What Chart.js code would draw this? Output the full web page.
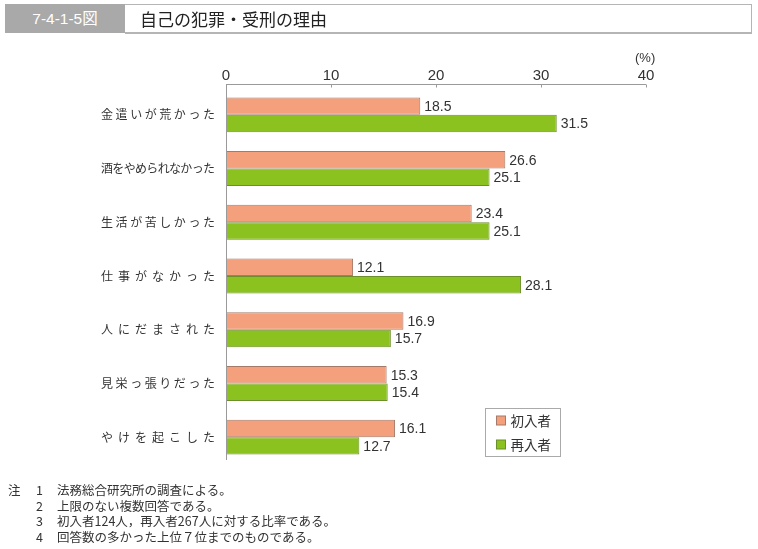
<!DOCTYPE html>
<html>
<head>
<meta charset="utf-8">
<script src="https://cdn.jsdelivr.net/npm/chart.js@4"></script>
<style>
  body { margin: 0; background: #fff; font-family: "Noto Sans CJK JP", "Liberation Sans", sans-serif; }
  #wrap { position: relative; width: 758px; height: 549px; overflow: hidden; }
  #chart { position: absolute; left: 0; top: 0; }
  .titleNo { position: absolute; left: 5px; top: 4px; width: 120px; height: 29px; background: #a9a9a9;
             color: #fff; font: 15.5px "Liberation Sans", "Noto Sans CJK JP", sans-serif; line-height: 29px; text-align: center; }
  .titleBox { position: absolute; left: 125px; top: 4px; width: 626px; height: 27px; border: 1px solid #b5b5b5;
              border-left: none; border-bottom: 2px solid #b5b5b5; }
  .titleText { position: absolute; left: 140px; top: 4px; height: 29px; line-height: 29px; font-size: 17px; color: #222; }
  .unit { position: absolute; left: 635px; top: 50px; font: 13px "Liberation Sans", sans-serif; color: #333; }
  .notes { position: absolute; left: 0; top: 482px; font-size: 12.5px; color: #333; }
  .notes div { position: relative; height: 15.5px; line-height: 15.5px; }
  .notes .h { position: absolute; left: 8px; }
  .notes .n { position: absolute; left: 36px; }
  .notes .t { position: absolute; left: 57px; white-space: nowrap; }
</style>
</head>
<body>
<div id="wrap">
  <canvas id="chart" width="758" height="549"></canvas>
  <div class="titleNo">7-4-1-5図</div>
  <div class="titleBox"></div>
  <div class="titleText">自己の犯罪・受刑の理由</div>
  <div class="unit">(%)</div>
  <div class="notes">
    <div><span class="h">注</span><span class="n">1</span><span class="t">法務総合研究所の調査による。</span></div>
    <div><span class="n">2</span><span class="t">上限のない複数回答である。</span></div>
    <div><span class="n">3</span><span class="t">初入者124人，再入者267人に対する比率である。</span></div>
    <div><span class="n">4</span><span class="t">回答数の多かった上位７位までのものである。</span></div>
  </div>
</div>
<script>
let categories = ["金遣いが荒かった", "酒をやめられなかった", "生活が苦しかった", "仕事がなかった",
                  "人にだまされた", "見栄っ張りだった", "やけを起こした"];
let seriesNames = ["初入者", "再入者"];
let firstTime = [18.5, 26.6, 23.4, 12.1, 16.9, 15.3, 16.1];
let repeat = [31.5, 25.1, 25.1, 28.1, 15.7, 15.4, 12.7];
let xTicks = [0, 10, 20, 30, 40];

/* axis lines, y labels, value labels, legend */
const extras = {
    id: "extras",
    afterDraw(chart) {
        const ctx = chart.ctx;
        const xs = chart.scales.x, ys = chart.scales.y;
        const x0 = xs.getPixelForValue(0), x1 = xs.getPixelForValue(40);
        const top = 84.5, bottom = 460;

        ctx.save();
        ctx.strokeStyle = "#9a9a9a";
        ctx.lineWidth = 1;
        ctx.beginPath();
        ctx.moveTo(x0, top); ctx.lineTo(x1, top);
        ctx.moveTo(x0 + 0.5, top); ctx.lineTo(x0 + 0.5, bottom);
        xTicks.forEach(v => {
            let px = Math.round(xs.getPixelForValue(v)) + 0.5;
            ctx.moveTo(px, top); ctx.lineTo(px, top + 3);
        });
        ctx.stroke();

        // category labels, spread evenly
        ctx.fillStyle = "#333";
        ctx.font = "12px 'Noto Sans CJK JP'";
        ctx.textBaseline = "middle";
        ctx.textAlign = "left";
        categories.forEach((c, i) => {
            let y = ys.getPixelForValue(i);
            let chars = Array.from(c);
            let cw = ctx.measureText(chars[0]).width;
            let left = 101, right = 215;
            let step = (right - left - cw) / (chars.length - 1);
            chars.forEach((ch, k) => ctx.fillText(ch, left + k * step, y));
        });

        // value labels
        ctx.font = "14px 'Liberation Sans', Arial, sans-serif";
        chart.data.datasets.forEach((ds, di) => {
            chart.getDatasetMeta(di).data.forEach((bar, i) => {
                ctx.fillText(ds.data[i].toFixed(1), bar.x + 4, bar.y + 1);
            });
        });

        // legend
        const lx = 485.5, ly = 408.5, lw = 75, lh = 48;
        ctx.strokeStyle = "#aaa";
        ctx.strokeRect(lx, ly, lw, lh);
        ctx.font = "13.5px 'Noto Sans CJK JP'";
        chart.data.datasets.forEach((ds, di) => {
            let cy = ly + 12 + di * 24;
            ctx.fillStyle = ds.backgroundColor;
            ctx.fillRect(lx + 11, cy - 4.5, 9, 9);
            ctx.strokeStyle = ds.borderColor;
            ctx.strokeRect(lx + 11, cy - 4.5, 9, 9);
            ctx.fillStyle = "#333";
            ctx.fillText(ds.label, lx + 25, cy);
        });
        ctx.restore();
    }
};

new Chart(document.getElementById("chart"), {
    type: "bar",
    data: {
        labels: categories,
        datasets: [
            { label: seriesNames[0], data: firstTime, backgroundColor: "#f4a07c", borderColor: "#a57a68", borderWidth: 1 },
            { label: seriesNames[1], data: repeat, backgroundColor: "#8cc21f", borderColor: "#6b8f2a", borderWidth: 1 }
        ]
    },
    options: {
        indexAxis: "y",
        responsive: false,
        animation: false,
        devicePixelRatio: 1,
        layout: { padding: { left: 226, right: 112, top: 0, bottom: 85 } },
        datasets: { bar: { categoryPercentage: 0.65, barPercentage: 1.0 } },
        plugins: { legend: { display: false }, tooltip: { enabled: false } },
        scales: {
            x: {
                position: "top",
                min: 0, max: 40,
                afterFit: s => { s.height = 88; },
                afterBuildTicks: s => { s.ticks = xTicks.map(v => ({ value: v })); },
                grid: { display: false, drawTicks: false },
                border: { display: false },
                ticks: { padding: 3, color: "#333", font: { family: "'Liberation Sans', Arial", size: 15 } }
            },
            y: {
                afterFit: s => { s.width = 0; },
                grid: { display: false },
                border: { display: false },
                ticks: { display: false }
            }
        }
    },
    plugins: [extras]
});
</script>
</body>
</html>
